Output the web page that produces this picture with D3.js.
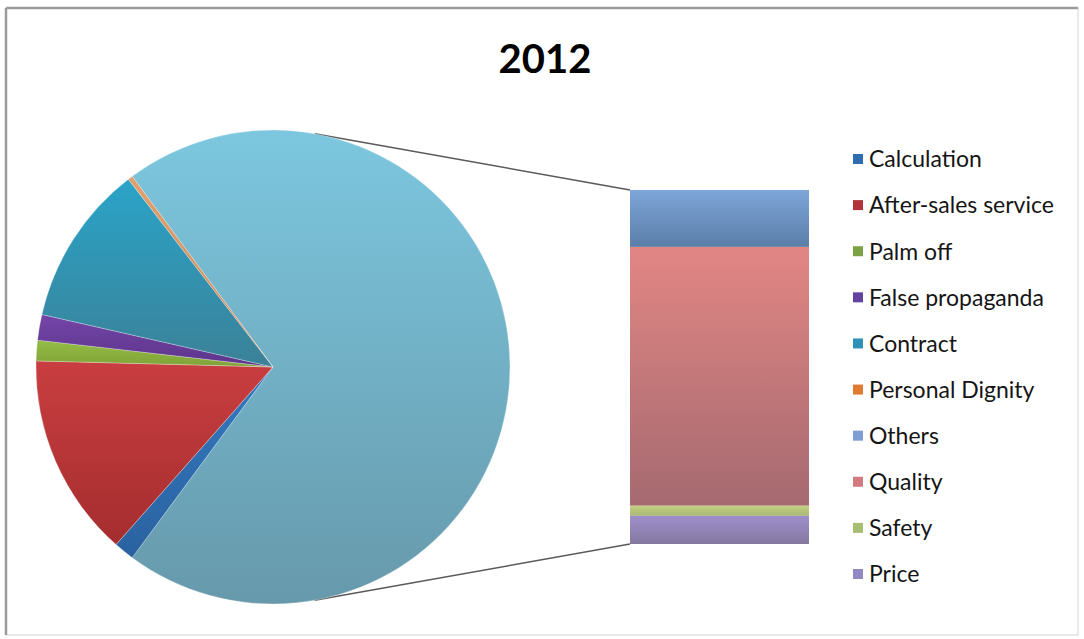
<!DOCTYPE html>
<html>
<head>
<meta charset="utf-8">
<script src="https://cdn.jsdelivr.net/npm/d3@7/dist/d3.min.js"></script>
<style>
  html, body { margin: 0; padding: 0; background: #fff; }
  svg { display: block; }
</style>
</head>
<body>
<svg id="chart" width="1084" height="639"></svg>
<script>
// ---- data ----
const title = "2012";
const pieCategories = ["Calculation", "After-sales service", "Palm off", "False propaganda", "Contract", "Personal Dignity"];
const pieValues = [1.4, 13.9, 1.4, 1.75, 11.0, 0.33];
const barCategories = ["Others", "Quality", "Safety", "Price"];
const barValues = [11.3, 51.4, 2.0, 5.6];
const otherLabel = "Other";

// ---- styles ----
const pieColors = {
  "Calculation": ["#3479bf", "#2a62a0"],
  "After-sales service": ["#c93e40", "#a52d2e"],
  "Palm off": ["#95bd45", "#7fa238"],
  "False propaganda": ["#7445a8", "#5c358a"],
  "Contract": ["#2aa4c8", "#3b8198"],
  "Personal Dignity": ["#e0a070", "#c98a5a"],
  "Other": ["#7cc7df", "#6799ab"]
};
const barColors = {
  "Others": ["#7ea6da", "#5b7ea8"],
  "Quality": ["#e28684", "#a56a70"],
  "Safety": ["#c4cf82", "#a9b874"],
  "Price": ["#9e8fcc", "#85789f"]
};
const legendColors = {
  "Calculation": "#2f6cb0", "After-sales service": "#b3323a", "Palm off": "#7da243",
  "False propaganda": "#6342a0", "Contract": "#2e92b8", "Personal Dignity": "#e07a30",
  "Others": "#7e9dd2", "Quality": "#d27a80", "Safety": "#a6bd72", "Price": "#918ac2"
};

const svg = d3.select("#chart");
const defs = svg.append("defs");
function grad(id, c) {
  const g = defs.append("linearGradient").attr("id", id)
    .attr("x1", 0).attr("y1", 0).attr("x2", 0).attr("y2", 1);
  g.append("stop").attr("offset", "0%").attr("stop-color", c[0]);
  g.append("stop").attr("offset", "100%").attr("stop-color", c[1]);
}
const gid = s => "g_" + s.replace(/[^A-Za-z]/g, "");
Object.entries(pieColors).forEach(([k, c]) => grad("p" + gid(k), c));
Object.entries(barColors).forEach(([k, c]) => grad("b" + gid(k), c));

// frame
svg.append("rect").attr("x", 6).attr("y", 8).attr("width", 1072).attr("height", 627)
  .attr("fill", "#fff").attr("stroke", "#d4d4d4").attr("stroke-width", 1);
svg.append("line").attr("x1", 6).attr("y1", 8).attr("x2", 1078).attr("y2", 8)
  .attr("stroke", "#9a9a9a").attr("stroke-width", 2.5);
svg.append("line").attr("x1", 6).attr("y1", 8).attr("x2", 6).attr("y2", 635)
  .attr("stroke", "#9a9a9a").attr("stroke-width", 2.5);

// title
svg.append("text").attr("x", 545).attr("y", 73).attr("text-anchor", "middle")
  .attr("font-family", "Lato, 'Open Sans', sans-serif").attr("font-weight", "bold")
  .attr("font-size", 40).attr("fill", "#000").text(title);

// ---- pie ----
const cx = 273, cy = 367, R = 237;
const otherValue = d3.sum(barValues);
const total = d3.sum(pieValues) + otherValue;
const otherAngle = otherValue / total * 2 * Math.PI;
const pieData = [{ name: otherLabel, value: otherValue }]
  .concat(pieCategories.map((c, i) => ({ name: c, value: pieValues[i] })));
const pie = d3.pie().sort(null).value(d => d.value)
  .startAngle(Math.PI / 2 - otherAngle / 2)
  .endAngle(Math.PI / 2 - otherAngle / 2 + 2 * Math.PI);
const arc = d3.arc().innerRadius(0).outerRadius(R);

// ---- bar ----
const barX = 630, barW = 179, barTop = 190, barBottom = 544;
const yBar = d3.scaleLinear().domain([0, otherValue]).range([barTop, barBottom]);
let acc = 0;
const barData = barCategories.map((c, i) => {
  const d = { name: c, y0: acc, y1: acc + barValues[i] };
  acc += barValues[i];
  return d;
});

// connector lines: tangents from bar's left corners to the pie circle
function tangentPoint(px, py, upper) {
  const dx = px - cx, dy = py - cy;
  const d = Math.hypot(dx, dy);
  const base = Math.atan2(dy, dx);
  const off = Math.acos(R / d);
  const a = upper ? base - off : base + off;
  return [cx + R * Math.cos(a), cy + R * Math.sin(a)];
}
const tTop = tangentPoint(barX, yBar(0), true);
const tBot = tangentPoint(barX, yBar(otherValue), false);
svg.append("line").attr("x1", tTop[0]).attr("y1", tTop[1]).attr("x2", barX).attr("y2", yBar(0))
  .attr("stroke", "#5a5a5a").attr("stroke-width", 1.5);
svg.append("line").attr("x1", tBot[0]).attr("y1", tBot[1]).attr("x2", barX).attr("y2", yBar(otherValue))
  .attr("stroke", "#5a5a5a").attr("stroke-width", 1.5);

svg.append("g").attr("transform", `translate(${cx},${cy})`)
  .selectAll("path").data(pie(pieData)).join("path")
  .attr("d", arc)
  .attr("fill", d => `url(#p${gid(d.data.name)})`)
  .attr("stroke", "rgba(255,255,255,0.35)").attr("stroke-width", 0.8);

svg.append("g").selectAll("rect").data(barData).join("rect")
  .attr("x", barX).attr("width", barW)
  .attr("y", d => yBar(d.y0)).attr("height", d => yBar(d.y1) - yBar(d.y0))
  .attr("fill", d => `url(#b${gid(d.name)})`);

// ---- legend ----
const legendItems = pieCategories.concat(barCategories);
const lg = svg.append("g");
const ly = d3.scalePoint().domain(legendItems).range([159, 574]);
legendItems.forEach(name => {
  const y = ly(name);
  lg.append("rect").attr("x", 853).attr("y", y - 5).attr("width", 10).attr("height", 10)
    .attr("fill", legendColors[name]);
  lg.append("text").attr("x", 869).attr("y", y).attr("dy", "0.36em")
    .attr("font-family", "Lato, 'Open Sans', sans-serif").attr("font-size", 23)
    .attr("fill", "#151515").text(name);
});
</script>
</body>
</html>
